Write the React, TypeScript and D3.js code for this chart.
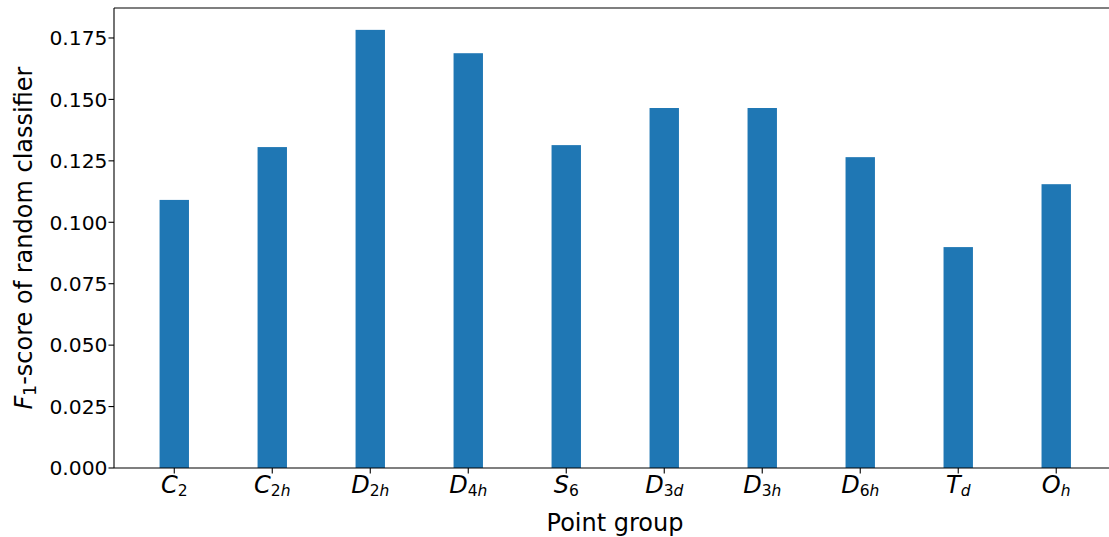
import React from "react";
import * as d3 from "d3";

const groups: { base: string; sub: string; subItalic: boolean[] }[] = [
  { base: "C", sub: "2", subItalic: [false] },
  { base: "C", sub: "2h", subItalic: [false, true] },
  { base: "D", sub: "2h", subItalic: [false, true] },
  { base: "D", sub: "4h", subItalic: [false, true] },
  { base: "S", sub: "6", subItalic: [false] },
  { base: "D", sub: "3d", subItalic: [false, true] },
  { base: "D", sub: "3h", subItalic: [false, true] },
  { base: "D", sub: "6h", subItalic: [false, true] },
  { base: "T", sub: "d", subItalic: [true] },
  { base: "O", sub: "h", subItalic: [true] },
];
const values = [0.1091, 0.1306, 0.1783, 0.1688, 0.1314, 0.1465, 0.1465, 0.1265, 0.0899, 0.1155];
const yTicks = [0, 0.025, 0.05, 0.075, 0.1, 0.125, 0.15, 0.175];

const W = 1109;
const H = 537;
const left = 114;
const right = 1116.5;
const top = 8;
const bottom = 468;
const barW = 0.3;
const font = "DejaVu Sans, sans-serif";

export default function App() {
  const n = values.length;
  const span = n - 1 + barW;
  const x = d3
    .scaleLinear()
    .domain([-barW / 2 - span * 0.05, n - 1 + barW / 2 + span * 0.05])
    .range([left, right]);
  const y = d3.scaleLinear().domain([0, 0.1872]).range([bottom, top]);
  const fmt = d3.format(".3f");

  return (
    <div style={{ position: "absolute", left: 0, top: 0 }}>
      <svg width={W} height={H} style={{ display: "block", background: "#fff" }} fontFamily={font}>
        {values.map((v, i) => (
          <rect
            key={i}
            x={x(i - barW / 2)}
            width={x(barW) - x(0)}
            y={y(v)}
            height={y(0) - y(v)}
            fill="#1f77b4"
          />
        ))}
        {/* spines */}
        <line x1={left} x2={left} y1={top} y2={bottom} stroke="#000" strokeWidth={1.1} />
        <line x1={left} x2={right} y1={bottom} y2={bottom} stroke="#000" strokeWidth={1.1} />
        <line x1={left} x2={right} y1={top} y2={top} stroke="#000" strokeWidth={1.1} />
        <line x1={right} x2={right} y1={top} y2={bottom} stroke="#000" strokeWidth={1.1} />
        {/* y ticks */}
        {yTicks.map((t) => (
          <g key={t} transform={`translate(${left},${y(t)})`}>
            <line x1={-5.5} x2={0} stroke="#000" strokeWidth={1.1} />
            <text x={-6.5} dy="0.36em" textAnchor="end" fontSize={20.3} fill="#000">
              {fmt(t)}
            </text>
          </g>
        ))}
        {/* x ticks */}
        {groups.map((g, i) => (
          <g key={i} transform={`translate(${x(i)},${bottom})`}>
            <line y1={0} y2={5.5} stroke="#000" strokeWidth={1.1} />
            <text y={24.7} textAnchor="middle" fontSize={24} fill="#000">
              <tspan fontStyle="italic">{g.base}</tspan>
              {g.sub.split("").map((c, k) => (
                <tspan
                  key={k}
                  fontSize={15.5}
                  fontStyle={g.subItalic[k] ? "italic" : "normal"}
                  dy={k === 0 ? 3.4 : 0}
                >
                  {c}
                </tspan>
              ))}
            </text>
          </g>
        ))}
        {/* axis labels */}
        <text x={615} y={531} textAnchor="middle" fontSize={24} fill="#000">
          Point group
        </text>
        <text
          transform={`translate(32,${(top + bottom) / 2}) rotate(-90)`}
          textAnchor="middle"
          fontSize={24}
          fill="#000"
        >
          <tspan fontStyle="italic">F</tspan>
          <tspan fontSize={17} dy={4}>1</tspan>
          <tspan dy={-4}>-score of random classifier</tspan>
        </text>
      </svg>
    </div>
  );
}
